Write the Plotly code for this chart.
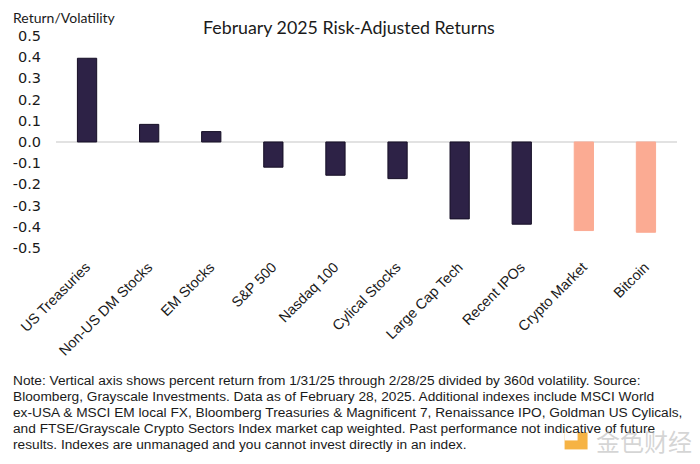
import plotly.graph_objects as go

categories = ["US Treasuries", "Non-US DM Stocks", "EM Stocks", "S&P 500", "Nasdaq 100",
              "Cylical Stocks", "Large Cap Tech", "Recent IPOs", "Crypto Market", "Bitcoin"]
values = [0.395, 0.083, 0.049, -0.119, -0.157, -0.173, -0.363, -0.388, -0.418, -0.426]
is_crypto = [False] * 8 + [True] * 2
y_ticks = [0.5, 0.4, 0.3, 0.2, 0.1, 0.0, -0.1, -0.2, -0.3, -0.4, -0.5]
y_tick_text = ["%.1f" % v for v in y_ticks]

title_text = "February 2025 Risk-Adjusted Returns"
y_title = "Return/Volatility"
note_lines = [
    "Note: Vertical axis shows percent return from 1/31/25 through 2/28/25 divided by 360d volatility. Source:",
    "Bloomberg, Grayscale Investments. Data as of February 28, 2025. Additional indexes include MSCI World",
    "ex-USA & MSCI EM local FX, Bloomberg Treasuries & Magnificent 7, Renaissance IPO, Goldman US Cylicals,",
    "and FTSE/Grayscale Crypto Sectors Index market cap weighted. Past performance not indicative of future",
    "results. Indexes are unmanaged and you cannot invest directly in an index.",
]
watermark = "金色财经"

NAVY = "#2d2246"
SALMON = "#fbab93"
colors = [SALMON if c else NAVY for c in is_crypto]
line_colors = [SALMON if c else "#160f26" for c in is_crypto]

fig = go.Figure()
fig.add_trace(go.Bar(
    x=categories, y=values,
    marker=dict(color=colors, line=dict(color=line_colors, width=1)),
    width=0.31,
    hoverinfo="x+y",
))

# page body has an 8px margin -> figure drawn 8px smaller, coordinates offset by 8
OFF = 8
W, H = 700 - OFF, 464 - OFF
ml, mr, mt, mb = 48, 22.5, 28, 214.7
PW, PH = W - ml - mr, H - mt - mb


def px(x):
    return (x - OFF - ml) / PW


def py(y):
    return 1 - (y - OFF - mt) / PH


fig.update_layout(
    width=W, height=H,
    margin=dict(l=ml, r=mr, t=mt, b=mb, pad=0),
    paper_bgcolor="white", plot_bgcolor="white",
    showlegend=False,
    xaxis=dict(
        tickangle=-45, tickfont=dict(family="Liberation Sans, Arial, sans-serif", size=14.4, color="#1a1a1a"),
        showgrid=False, showline=False, zeroline=False, ticks="",
        range=[-0.5, 9.5], automargin=False,
        ticklabelstandoff=6, ticklabelshift=-1,
    ),
    yaxis=dict(
        range=[-0.505, 0.5], tickvals=y_ticks, ticktext=y_tick_text,
        tickfont=dict(family="DejaVu Sans, sans-serif", size=14.5, color="#1a1a1a"),
        showgrid=False, showline=False, ticks="",
        zeroline=True, zerolinecolor="#e2e2e2", zerolinewidth=2,
        ticklabelstandoff=14, automargin=False,
    ),
    font=dict(family="Lato, sans-serif"),
)

fig.add_annotation(text=title_text, xref="paper", yref="paper",
                   x=px(349), y=py(26.5),
                   xanchor="center", yanchor="middle", showarrow=False,
                   font=dict(family="Lato, sans-serif", size=17.8, color="#1a1a1a"))
fig.add_annotation(text=y_title, xref="paper", yref="paper",
                   x=px(11), y=py(17),
                   xanchor="left", yanchor="middle", showarrow=False,
                   font=dict(family="Lato, sans-serif", size=14, color="#1a1a1a"))

for i, line in enumerate(note_lines):
    fig.add_annotation(text=line, xref="paper", yref="paper",
                       x=px(11), y=py(381 + 16 * i),
                       xanchor="left", yanchor="middle", showarrow=False,
                       font=dict(family="Liberation Sans, Arial, sans-serif", size=13.7, color="#1a1a1a"))

# watermark logo + text
fig.add_shape(type="rect", xref="paper", yref="paper",
              x0=px(565), x1=px(588), y0=py(450), y1=py(433),
              fillcolor="rgba(245,166,35,0.85)", line=dict(width=0), layer="above")
fig.add_shape(type="rect", xref="paper", yref="paper",
              x0=px(565), x1=px(578), y0=py(441), y1=py(433),
              fillcolor="white", line=dict(width=0), layer="above")
fig.add_annotation(text=watermark, xref="paper", yref="paper",
                   x=px(594), y=py(441),
                   xanchor="left", yanchor="middle", showarrow=False,
                   font=dict(family="Noto Sans CJK SC", size=24, color="rgba(185,185,185,0.6)"))

fig.write_html("out.html")
